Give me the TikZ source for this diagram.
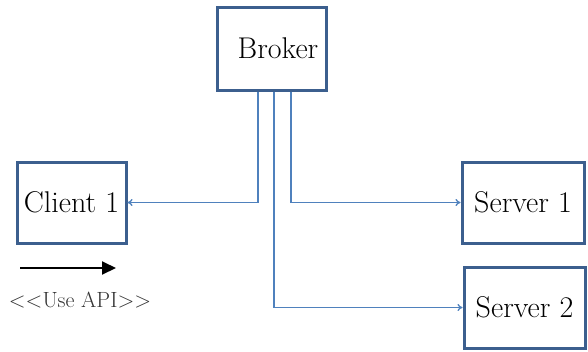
\documentclass[tikz,border=0pt]{standalone}
\usetikzlibrary{arrows.meta}

\definecolor{boxblue}{HTML}{3C5F8E}
\definecolor{wireblue}{HTML}{4F81BD}

\begin{document}
\begin{tikzpicture}
[every node/.style={inner sep=0pt},
 box/.style={rectangle, draw=boxblue, line width=3pt, fill=white, font=\fontsize{30}{32}\selectfont},
 wire/.style={line width=1.3pt, draw=wireblue, -{To[length=5pt,width=7pt]}}]
\useasboundingbox (0pt, 0pt) rectangle (588pt, -351pt);
\node (broker) [box, minimum width=109pt, minimum height=83pt] at (271.5pt, -48.5pt) {\hspace*{13pt}Broker};
\node (client1) [box, minimum width=109pt, minimum height=81pt] at (71.5pt, -202.5pt) {Client 1};
\node (server1) [box, minimum width=122pt, minimum height=81pt] at (523pt, -202.5pt) {Server 1};
\node (server2) [box, minimum width=121pt, minimum height=81pt] at (524.5pt, -307.5pt) {Server 2};
\draw [wire] ([xshift=-13.5pt]broker.south) |- (client1.east);
\draw [wire] ([xshift=19.5pt]broker.south) |- (server1.west);
\draw [wire] ([xshift=2.5pt]broker.south) |- (server2.west);
% legend
\coordinate (apistart) at (20pt, -268pt);
\coordinate (apiend) at (116pt, -268pt);
\draw [line width=2pt, -{Triangle[length=14pt,width=13pt]}] (apistart) -- (apiend);
\node (apilabel) [font=\fontsize{22}{24}\selectfont, text=black!80] at (80pt, -300pt) {\textless{}\textless{}Use API\textgreater{}\textgreater};
\end{tikzpicture}
\end{document}
